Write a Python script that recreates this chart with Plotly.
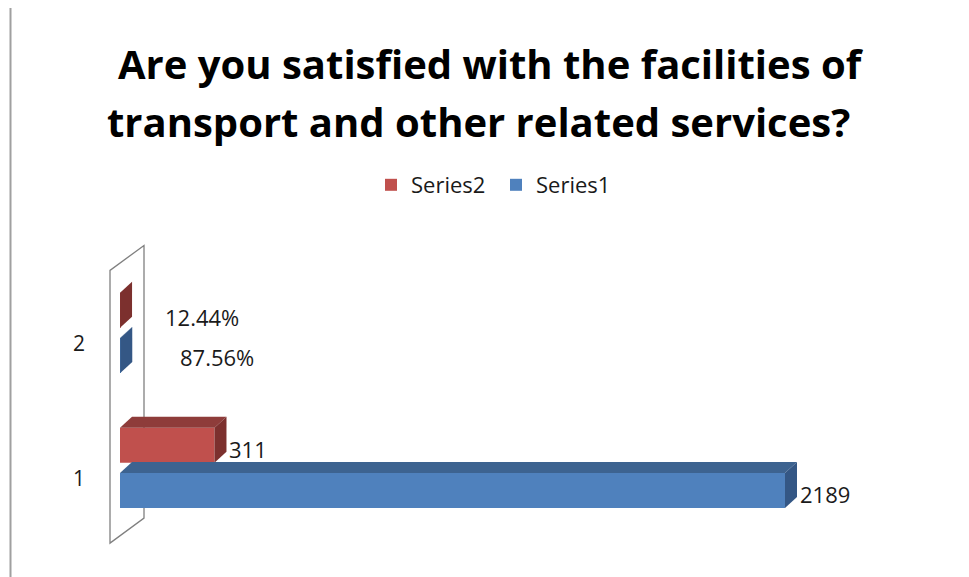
import plotly.graph_objects as go

# ---- data ----
categories = [1, 2]
category_labels = ["1", "2"]
series1 = [2189, 0.8756]
series2 = [311, 0.1244]
series_names = ["Series1", "Series2"]
title_lines = ["Are you satisfied with the facilities of",
               "transport and other related services?"]

# ---- layout geometry (page has an 8px body margin) ----
BODY = 8
W, H = 969 - BODY, 577 - BODY
L = 100 - BODY
PX_PER_X = 665 / 2189.0          # px per data unit (x)
PX_PER_Y = 135.0                 # px per category unit (y)
X0 = -20 / PX_PER_X
X1 = X0 + (W - L) / PX_PER_X
Y0 = 1 - (H - (479 - BODY)) / PX_PER_Y
Y1 = Y0 + H / PX_PER_Y
DX = 12 / PX_PER_X               # 3D depth, x
DY = 11 / PX_PER_Y               # 3D depth, y
BAR_W = 0.26
FONT = "Open Sans"


def px_x(sx):
    return (sx - BODY - L) / (W - L)


def px_y(sy):
    return 1 - (sy - BODY) / H


styles = {
    "Series1": dict(front="#4F81BD", top="#3D6390", side="#345785", off=-0.085),
    "Series2": dict(front="#C0504D", top="#8E3C3A", side="#7C302E", off=0.25),
}
# label offsets (px) per series per category
label_shift = {
    "Series1": [(DX * PX_PER_X + 1, -4), (58, -2)],
    "Series2": [(DX * PX_PER_X + 1, -4), (43, -7)],
}


def fmt(v):
    return f"{v * 100:.2f}%" if v < 1 else f"{v:g}"


fig = go.Figure()
annotations = []
data = {"Series1": series1, "Series2": series2}

for name in ["Series2", "Series1"]:
    st = styles[name]
    vals = data[name]
    ys = [c + st["off"] for c in categories]
    # front faces
    fig.add_trace(go.Bar(
        x=vals, y=ys, orientation="h", width=BAR_W, name=name,
        marker=dict(color=st["front"], line=dict(width=0)),
        hoverinfo="x+name",
    ))
    for i, (v, yc) in enumerate(zip(vals, ys)):
        yb, yt = yc - BAR_W / 2, yc + BAR_W / 2
        # top face
        fig.add_trace(go.Scatter(
            x=[0, v, v + DX, DX, 0], y=[yt, yt, yt + DY, yt + DY, yt],
            fill="toself", fillcolor=st["top"], mode="lines",
            line=dict(width=0), showlegend=False, hoverinfo="skip"))
        # side (end) face
        fig.add_trace(go.Scatter(
            x=[v, v, v + DX, v + DX, v], y=[yb, yt, yt + DY, yb + DY, yb],
            fill="toself", fillcolor=st["side"], mode="lines",
            line=dict(width=0), showlegend=False, hoverinfo="skip"))
        xs, ysh = label_shift[name][i]
        annotations.append(dict(
            x=v, y=yc, xref="x", yref="y", text=fmt(v), showarrow=False,
            xanchor="left", yanchor="middle", xshift=xs, yshift=ysh,
            font=dict(family=FONT, size=22, color="#1a1a1a")))

# side wall of the 3D chart (axis decoration)
wall_lo, wall_hi = categories[0] - 0.475, categories[-1] + 0.545
wx0 = -10 / PX_PER_X
wdx, wdy = 34 / PX_PER_X, 25 / PX_PER_Y
wall = (f"M{wx0},{wall_lo} L{wx0},{wall_hi} L{wx0 + wdx},{wall_hi + wdy} "
        f"L{wx0 + wdx},{wall_lo + wdy} Z")

shapes = [
    dict(type="path", path=wall, xref="x", yref="y", layer="below",
         line=dict(color="#808080", width=1.3), fillcolor="white"),
    dict(type="line", xref="paper", yref="paper",
         x0=px_x(10.5), x1=px_x(10.5), y0=0, y1=1,
         line=dict(color="#A0A0A0", width=2)),
]

# title lines
for txt, cx, cy in zip(title_lines, [491, 478], [64, 121]):
    annotations.append(dict(
        text=f"<b>{txt}</b>", xref="paper", yref="paper",
        x=px_x(cx), y=px_y(cy), xanchor="center", yanchor="middle",
        showarrow=False, font=dict(family=FONT, size=40, color="#000000")))

fig.update_layout(
    width=W, height=H,
    margin=dict(l=L, r=0, t=0, b=0),
    paper_bgcolor="white", plot_bgcolor="white",
    barmode="overlay",
    xaxis=dict(range=[X0, X1], visible=False, fixedrange=True),
    yaxis=dict(range=[Y0, Y1], tickvals=categories, ticktext=category_labels,
               showgrid=False, zeroline=False, showline=False, ticks="",
               ticklabelstandoff=14,
               tickfont=dict(family=FONT, size=21, color="#1a1a1a")),
    legend=dict(orientation="h", x=px_x(371), y=px_y(185),
                xanchor="left", yanchor="middle", entrywidth=80,
                font=dict(family=FONT, size=22, color="#1a1a1a")),
    shapes=shapes,
    annotations=annotations,
    showlegend=True,
)

fig.write_html("out.html")
